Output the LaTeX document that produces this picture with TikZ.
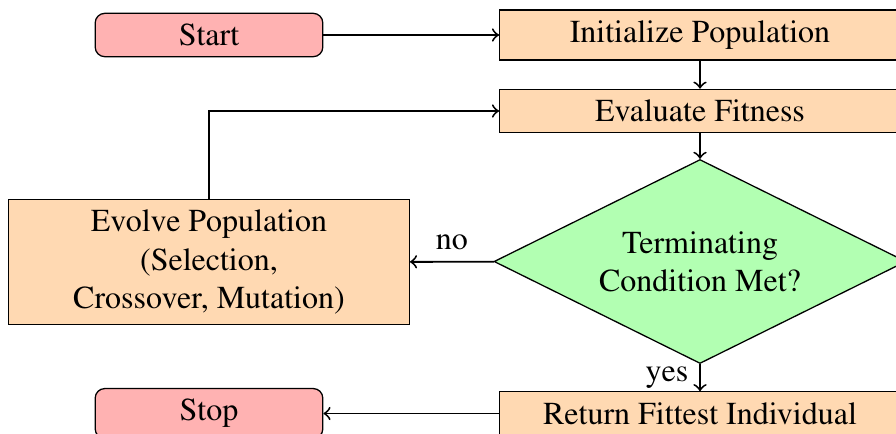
\documentclass[tikz,border=0pt]{standalone}
\usepackage[T1]{fontenc}
\usepackage{times}
\usetikzlibrary{shapes.geometric}

\begin{document}
\begin{tikzpicture}[x=0.3125pt, y=-0.3125pt,
  terminal/.style={draw, rounded corners=3pt, fill=red!30, minimum width=2.5cm},
  process/.style={draw, fill=orange!30, minimum width=4.4cm, align=center},
  decision/.style={draw, diamond, aspect=2, fill=green!30, align=center, inner sep=0pt,
                   minimum width=128.75pt, minimum height=63.75pt},
  flow/.style={->, semithick}]
  \clip (0,0) rectangle (896,433);

  % nodes
  \node[terminal] (start) at (209,35) {Start};
  \node[process]  (init)  at (700,35) {Initialize Population};
  \node[process]  (eval)  at (700,111) {Evaluate Fitness};
  \node[decision] (cond)  at (700,261.5) {Terminating\\Condition Met?};
  \node[process]  (evolve) at (209,262) {Evolve Population\\(Selection,\\Crossover, Mutation)};
  \node[process]  (ret)   at (700,413.5) {Return Fittest Individual};
  \node[terminal] (stop)  at (209,413.5) {Stop};

  % connectors
  \draw[flow] (start) -- (init);
  \draw[flow] (init) -- (eval);
  \draw[flow] (eval) -- (cond);
  \draw[flow] (cond) -- node[above] {no} (evolve);
  \draw[flow] (evolve.north) |- (eval.west);
  \draw[flow] (cond) -- node[left] {yes} (ret);
  \draw[flow] (ret) -- (stop);
\end{tikzpicture}
\end{document}
